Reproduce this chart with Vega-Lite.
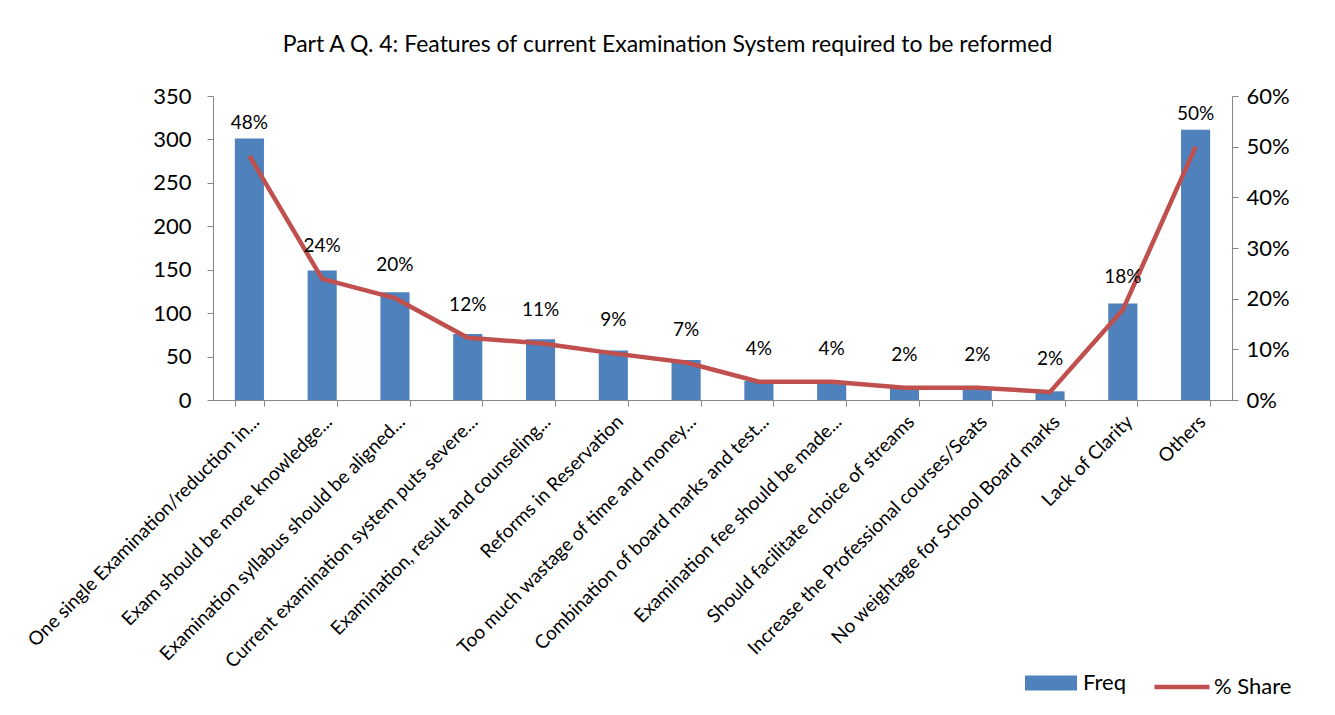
{
  "$schema": "https://vega.github.io/schema/vega-lite/v6.json",
  "autosize": {"type": "none"},
  "width": 1019,
  "height": 304,
  "padding": {"left": 213, "top": 96, "right": 103, "bottom": 315},
  "background": "white",
  "config": {
    "font": "Lato",
    "view": {"stroke": null},
    "axis": {"grid": false, "domainColor": "#868686", "tickColor": "#868686", "labelColor": "black", "labelFont": "Lato"}
  },
  "title": {
    "text": "Part A Q. 4: Features of current Examination System required to be reformed",
    "fontSize": 23,
    "fontWeight": "normal",
    "font": "Lato",
    "color": "black",
    "anchor": "middle",
    "dx": -55,
    "offset": 28
  },
  "data": {
    "values": [
      {"cat": "One single Examination/reduction in...", "freq": 301, "pct": 0.482},
      {"cat": "Exam should be more knowledge...", "freq": 149, "pct": 0.239},
      {"cat": "Examination syllabus should be aligned...", "freq": 124, "pct": 0.201},
      {"cat": "Current examination system puts severe...", "freq": 76, "pct": 0.123},
      {"cat": "Examination, result and counseling...", "freq": 70, "pct": 0.112},
      {"cat": "Reforms in Reservation", "freq": 57, "pct": 0.092},
      {"cat": "Too much wastage of time and money...", "freq": 46, "pct": 0.074},
      {"cat": "Combination of board marks and test...", "freq": 22, "pct": 0.036},
      {"cat": "Examination fee should be made...", "freq": 22, "pct": 0.036},
      {"cat": "Should facilitate choice of streams", "freq": 14, "pct": 0.024},
      {"cat": "Increase the Professional courses/Seats", "freq": 14, "pct": 0.024},
      {"cat": "No weightage for School Board marks", "freq": 10, "pct": 0.016},
      {"cat": "Lack of Clarity", "freq": 111, "pct": 0.178},
      {"cat": "Others", "freq": 311, "pct": 0.50}
    ]
  },
  "encoding": {
    "x": {
      "field": "cat",
      "type": "nominal",
      "sort": null,
      "scale": {"paddingInner": 0.6, "paddingOuter": 0.3},
      "axis": {
        "title": null,
        "labelAngle": -45,
        "labelAlign": "right",
        "labelBaseline": "top",
        "labelFontSize": 19,
        "labelLimit": 500,
        "labelPadding": 6,
        "tickBand": "extent",
        "tickSize": 6
      }
    }
  },
  "layer": [
    {
      "mark": {"type": "bar"},
      "encoding": {
        "y": {
          "field": "freq",
          "type": "quantitative",
          "scale": {"domain": [0, 350], "nice": false},
          "axis": {"title": null, "values": [0, 50, 100, 150, 200, 250, 300, 350], "labelFontSize": 22, "tickSize": 6, "labelPadding": 16}
        },
        "fill": {
          "datum": "Freq",
          "scale": {"range": ["#4F81BD"]},
          "legend": {
            "title": null,
            "orient": "none",
            "legendX": 812,
            "legendY": 561,
            "symbolType": "M-1,-0.29H1V0.29H-1Z",
            "symbolSize": 2704,
            "symbolStrokeWidth": 0,
            "labelFontSize": 22,
            "labelFont": "Lato",
            "labelOffset": 6,
            "labelColor": "black"
          }
        }
      }
    },
    {
      "mark": {"type": "line", "strokeWidth": 4.5},
      "encoding": {
        "y": {
          "field": "pct",
          "type": "quantitative",
          "scale": {"domain": [0, 0.6], "nice": false},
          "axis": {"title": null, "orient": "right", "format": ".0%", "values": [0, 0.1, 0.2, 0.3, 0.4, 0.5, 0.6], "labelFontSize": 22, "tickSize": 6, "labelPadding": 8}
        },
        "stroke": {
          "datum": "% Share",
          "scale": {"range": ["#C0504D"]},
          "legend": {
            "title": null,
            "orient": "none",
            "legendX": 939,
            "legendY": 561,
            "symbolType": "stroke",
            "symbolSize": 3025,
            "symbolStrokeWidth": 4.5,
            "labelFontSize": 22,
            "labelFont": "Lato",
            "labelOffset": 2,
            "labelColor": "black"
          }
        }
      }
    },
    {
      "mark": {"type": "text", "dy": -33, "fontSize": 19, "font": "Lato", "color": "black"},
      "encoding": {
        "y": {"field": "pct", "type": "quantitative", "scale": {"domain": [0, 0.6], "nice": false}, "axis": null},
        "text": {"field": "pct", "type": "quantitative", "format": ".0%"}
      }
    }
  ],
  "resolve": {"scale": {"y": "independent"}}
}
